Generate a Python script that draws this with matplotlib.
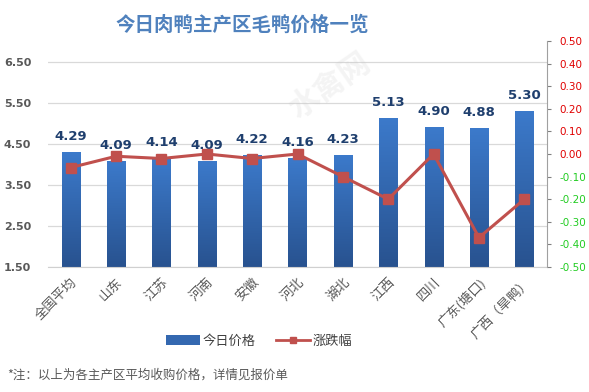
import matplotlib
matplotlib.use("Agg")
import matplotlib.pyplot as plt
import numpy as np
from matplotlib.lines import Line2D
from matplotlib.patches import Patch
from matplotlib.colors import LinearSegmentedColormap

plt.rcParams['font.family'] = ['Noto Sans CJK SC', 'DejaVu Sans']

categories = ['全国平均', '山东', '江苏', '河南', '安徽', '河北', '湖北', '江西', '四川', '广东(塘口)', '广西（旱鸭）']
prices = [4.29, 4.09, 4.14, 4.09, 4.22, 4.16, 4.23, 5.13, 4.90, 4.88, 5.30]
changes = [-0.06, -0.01, -0.02, 0.00, -0.02, 0.00, -0.10, -0.20, 0.00, -0.37, -0.20]
left_ticks = [1.5, 2.5, 3.5, 4.5, 5.5, 6.5]
right_ticks = [0.5, 0.4, 0.3, 0.2, 0.1, 0.0, -0.1, -0.2, -0.3, -0.4, -0.5]

fig = plt.figure(figsize=(5.89, 3.92), dpi=100)
ax = fig.add_axes([0.0815, 0.3189, 0.8472, 0.5765])
ax2 = ax.twinx()

x = np.arange(len(categories))
bars = ax.bar(x, prices, width=0.4, color='#3468b0', zorder=2)

# gradient fill
grad = np.linspace(0, 1, 256).reshape(-1, 1)
cmap = LinearSegmentedColormap.from_list('g', ['#28528f', '#3c7acb'])
for b in bars:
    x0, y0 = b.get_x(), b.get_y()
    w, h = b.get_width(), b.get_height()
    im = ax.imshow(grad, extent=[x0, x0 + w, 1.5, y0 + h], origin='lower', cmap=cmap,
                   aspect='auto', zorder=2.5, interpolation='bicubic')
    im.set_clip_path(b)
ax.set_xlim(-0.5, len(categories) - 0.5)
ax.set_ylim(1.5, 7.0)
ax.set_aspect('auto')

for xi, p in zip(x, prices):
    ax.text(xi, p + 0.22, f'{p:.2f}', ha='center', va='bottom', fontsize=9.5,
            fontweight='bold', color='#1f3f6e', family='DejaVu Sans', zorder=5)

ax.set_yticks(left_ticks)
ax.set_yticklabels([f'{t:.2f}' for t in left_ticks], fontsize=8, color='#595959', fontweight='bold', family='DejaVu Sans')
ax.tick_params(axis='y', length=0, pad=12)
ax.grid(axis='y', color='#d9d9d9', linewidth=0.9, zorder=0)
ax.set_axisbelow(True)
for s in ['top', 'left', 'right']:
    ax.spines[s].set_visible(False)
ax.spines['bottom'].set_color('#d0d0d0')
ax.set_xticks(x)
ax.set_xticklabels(categories, rotation=45, ha='right', rotation_mode='anchor', fontsize=9.5, color='#595959')
ax.tick_params(axis='x', length=0, pad=6)

ax2.plot(x, changes, color='#c0504d', linewidth=2.2, marker='s', markersize=7,
         markerfacecolor='#c0504d', markeredgecolor='#c0504d', zorder=6)
ax2.set_ylim(-0.5, 0.5)
ax2.set_yticks(right_ticks)
ax2.set_yticklabels([f'{t:.2f}' for t in right_ticks], fontsize=7.5, family='DejaVu Sans')
for lbl, t in zip(ax2.get_yticklabels(), right_ticks):
    lbl.set_color('#e00000' if t >= 0 else '#22cc22')
ax2.tick_params(axis='y', length=3, color='#808080', pad=6)
for s in ['top', 'left', 'bottom']:
    ax2.spines[s].set_visible(False)
ax2.spines['right'].set_color('#a0a0a0')
ax.set_zorder(1)
ax2.set_zorder(2)

fig.text(0.411, 0.935, '今日肉鸭主产区毛鸭价格一览', ha='center', va='center', fontsize=14,
         fontweight='bold', color='#4f81bd')

# faint watermark
fig.text(0.56, 0.78, '水禽网', ha='center', va='center', fontsize=22, rotation=35,
         color='#c8c8c8', alpha=0.2, fontweight='bold')

handles = [Patch(facecolor='#3468b0', edgecolor='none'),
           Line2D([0], [0], color='#c0504d', linewidth=2, marker='s', markersize=5)]
fig.legend(handles, ['今日价格', '涨跌幅'], loc='center', bbox_to_anchor=(0.44, 0.13), ncol=2,
           frameon=False, fontsize=9.5, handlelength=2.6, handleheight=0.7, columnspacing=1.5,
           handletextpad=0.2, labelcolor='#404040')

fig.text(0.013, 0.043, '*注：以上为各主产区平均收购价格，详情见报价单', ha='left', va='center',
         fontsize=9, color='#595959')

fig.savefig('out.png', dpi=100)
